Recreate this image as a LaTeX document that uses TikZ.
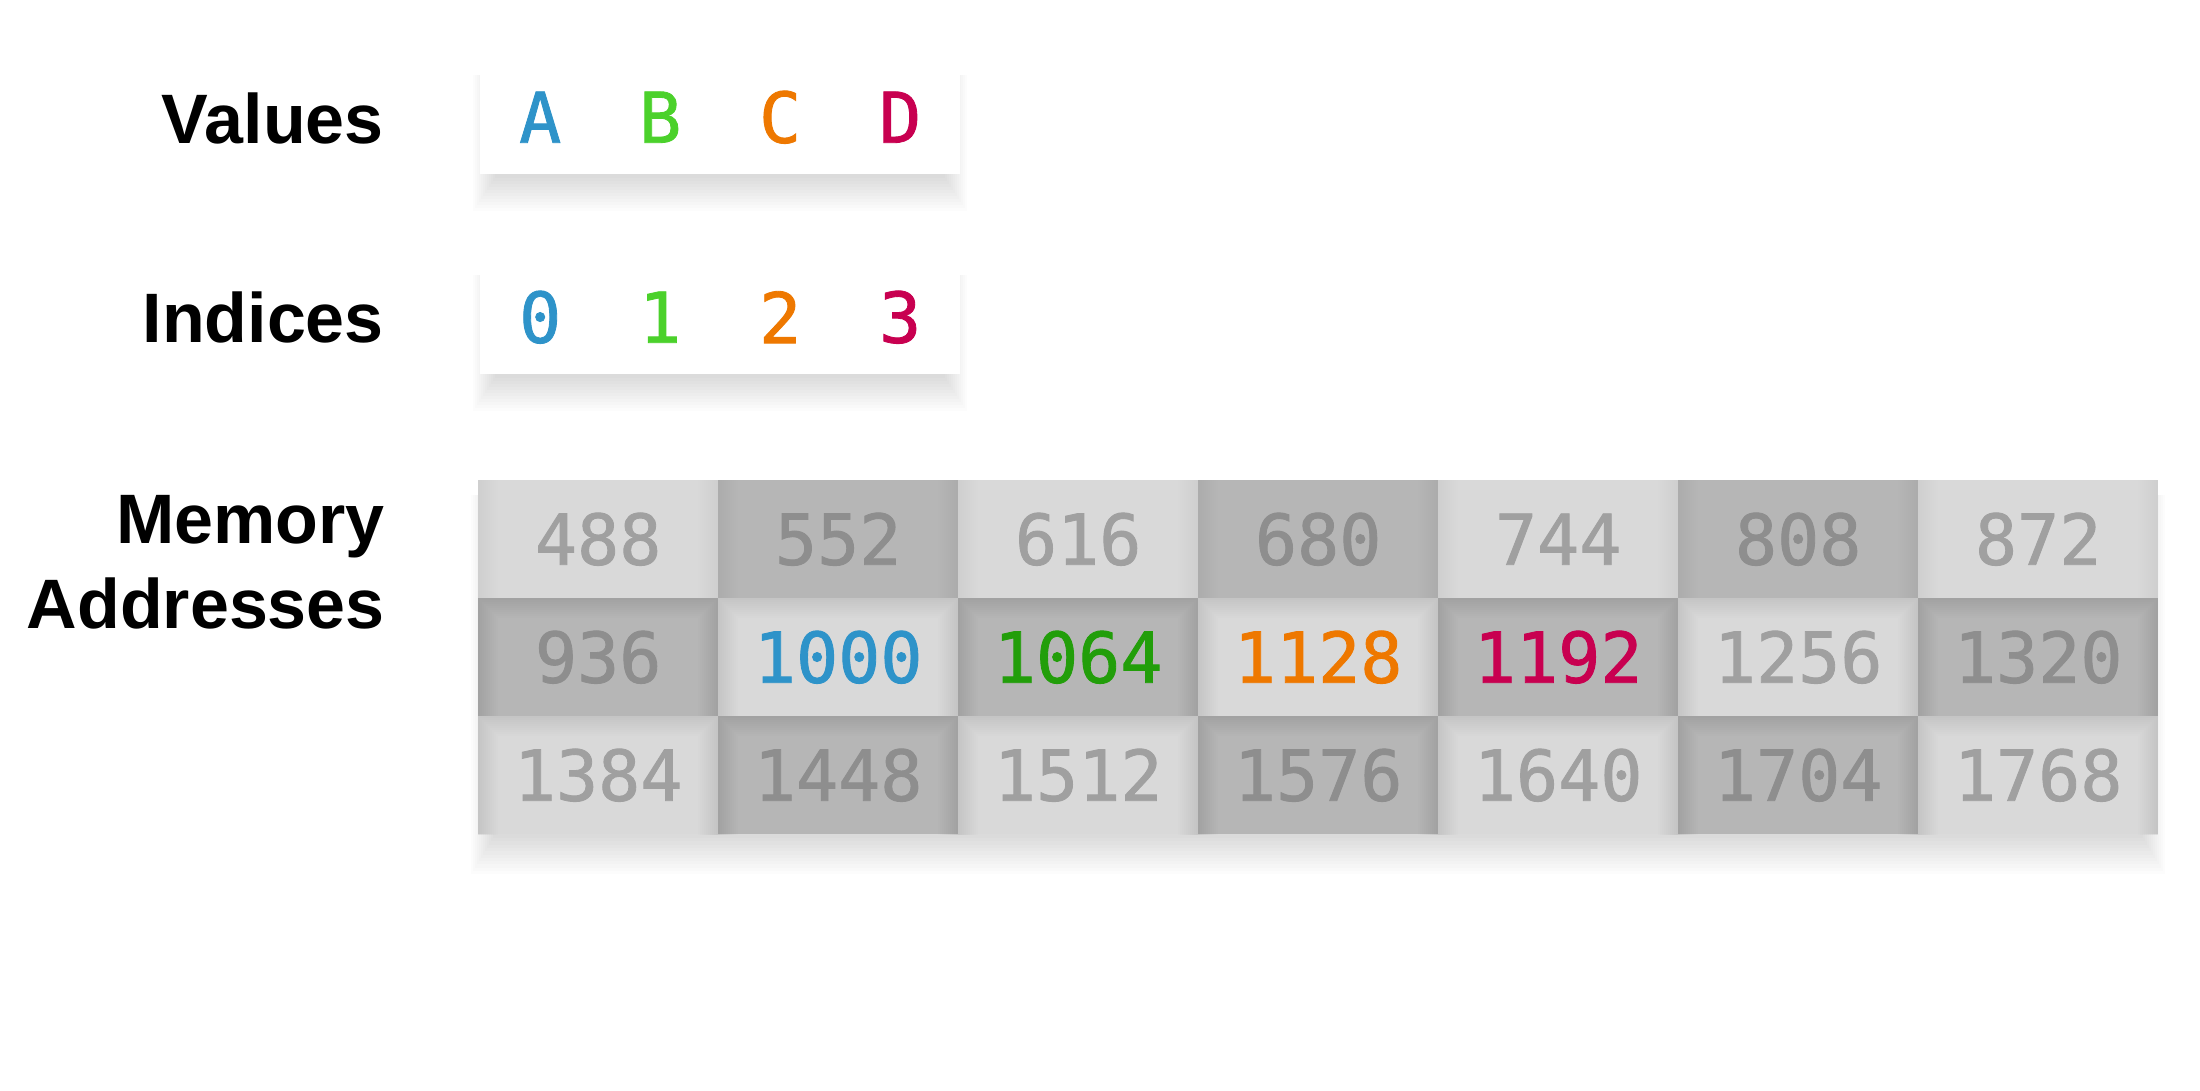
\documentclass[tikz,border=0pt]{standalone}
\usepackage{fontspec}
\setmainfont{Liberation Sans}
\newfontfamily\monofont{DejaVu Sans Mono}[FakeBold=1.2]
\definecolor{cblue}{RGB}{46,147,201}
\definecolor{clgreen}{RGB}{75,209,43}
\definecolor{cgreen}{RGB}{34,158,10}
\definecolor{corange}{RGB}{238,120,0}
\definecolor{ccrimson}{RGB}{200,0,80}
\definecolor{cellL}{RGB}{217,217,217}
\definecolor{cellD}{RGB}{182,182,182}
\definecolor{txtL}{RGB}{160,160,160}
\definecolor{txtD}{RGB}{142,142,142}
\tikzset{
  lbl/.style={anchor=base east, inner sep=0pt, font=\fontsize{70}{84}\selectfont\bfseries},
  shadeLR/.style={path picture={\foreach \w in {4,8,...,40}{\draw[line width=\w pt, black, opacity=#1] ([yshift=-80pt]path picture bounding box.south west) rectangle ([yshift=80pt]path picture bounding box.north east);}}},
  shadeLRT/.style={path picture={\foreach \w in {4,8,...,40}{\draw[line width=\w pt, black, opacity=#1] ([yshift=-80pt]path picture bounding box.south west) rectangle (path picture bounding box.north east);}}},
  card/.style={fill=white, minimum width=120pt, minimum height=114pt, inner sep=0pt, anchor=north west, font=\monofont\fontsize{70}{84}\selectfont, shadeLR=0.0018},
  memcell/.style={minimum width=240pt, minimum height=118pt, inner sep=0pt, anchor=north west, font=\monofont\fontsize{70}{84}\selectfont},
  lightcell/.style={memcell, fill=cellL, text=txtL},
  darkcell/.style={memcell, fill=cellD, text=txtD},
}
\begin{document}
\begin{tikzpicture}[x=1pt,y=-1pt]
\useasboundingbox (0,0) rectangle (2200,1090);
\fill[white] (0,0) rectangle (2200,1090);

% labels
\node[lbl] (valuesl) at (384,143) {Values};
\node[lbl] (indicesl) at (384,342) {Indices};
\node[lbl] (meml) at (385,543) {Memory};
\node[lbl] (addrl) at (385,628) {Addresses};

% soft shadows
\foreach \k in {0,...,11}{
  \fill[black, opacity=0.011] (495-2*\k,75) rectangle (945+2*\k,178+3*\k);
  \fill[black, opacity=0.011] (495-2*\k,275) rectangle (945+2*\k,378+3*\k);
  \fill[black, opacity=0.012] (493-2*\k,495) rectangle (2143+2*\k,838+3.3*\k);
}

% value and index cards
\foreach \i/\t/\c in {0/A/cblue,1/B/clgreen,2/C/corange,3/D/ccrimson}{
  \node[card, text=\c] (v\i) at (480+120*\i,60) {\t};
  \node[card, text=\c] (i\i) at (480+120*\i,260) {\i};
}

% memory grid
\foreach \r in {0,1,2}{
  \foreach \c in {0,...,6}{
    \pgfmathtruncatemacro{\v}{488+64*(7*\r+\c)}
    \pgfmathtruncatemacro{\parity}{mod(\r+\c,2)}
    \ifnum\parity=0
      \def\cellstyle{lightcell}
    \else
      \def\cellstyle{darkcell}
    \fi
    \ifnum\r=0
      \def\shstyle{shadeLR=0.005}
    \else
      \def\shstyle{shadeLRT=0.009}
    \fi
    \def\txtcol{}
    \ifnum\r=1
      \ifnum\c=1 \def\txtcol{text=cblue}\fi
      \ifnum\c=2 \def\txtcol{text=cgreen}\fi
      \ifnum\c=3 \def\txtcol{text=corange}\fi
      \ifnum\c=4 \def\txtcol{text=ccrimson}\fi
    \fi
    \edef\doit{\noexpand\node[\cellstyle, \shstyle, \txtcol] (m-\r-\c) at (478+240*\c,480+118*\r) {\v};}
    \doit
  }
}
\end{tikzpicture}
\end{document}
